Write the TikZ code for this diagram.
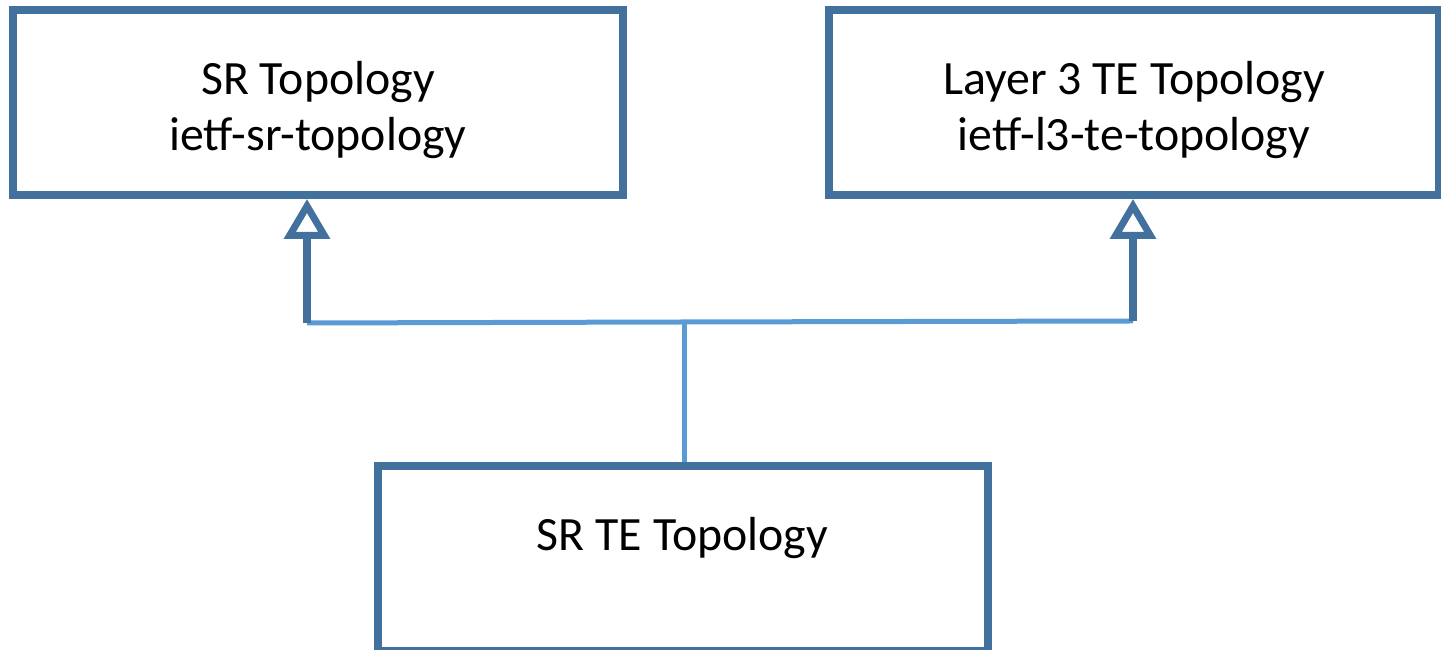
\documentclass[tikz,border=0pt]{standalone}
\usepackage{fontspec}
\setmainfont{Carlito}
\usetikzlibrary{arrows.meta}
\definecolor{boxblue}{HTML}{41719C}
\definecolor{linkblue}{HTML}{5B9BD5}
\begin{document}
\begin{tikzpicture}
  [modelbox/.style={draw=boxblue,line width=0.08cm,fill=white,
     minimum width=6.1cm,minimum height=1.85cm,align=center,
     font=\fontsize{13.6pt}{16.2pt}\selectfont,
     text height=0.97cm,text depth=0pt},
   augment/.style={draw=boxblue,line width=0.08cm,
     -{Triangle[open,length=0.4cm,width=0.45cm,line width=0.07cm]}},
   link/.style={draw=linkblue,line width=0.05cm}]
\useasboundingbox (0,0) rectangle (14.41,6.5);
\node (sr)[modelbox] at (3.18,5.475) {SR Topology\\ietf-sr-topology};
  \node (lte)[modelbox] at (11.34,5.475) {Layer 3 TE Topology\\ietf-l3-te-topology};
  \node (srte)[modelbox] at (6.825,0.915) {SR TE Topology\\\mbox{}};
  \coordinate (jl) at (3.07,3.27);
  \coordinate (jm) at (6.84,3.28);
  \coordinate (jr) at (11.33,3.29);
 \draw[link] (jl) -- (jm) -- (jr);
 \draw[link] (jm) -- (jm |- srte.north);
 \foreach \from/\to in {jl/sr,jr/lte}
    \draw[augment] (\from) -- (\from |- \to.south);

\end{tikzpicture}
\end{document}
